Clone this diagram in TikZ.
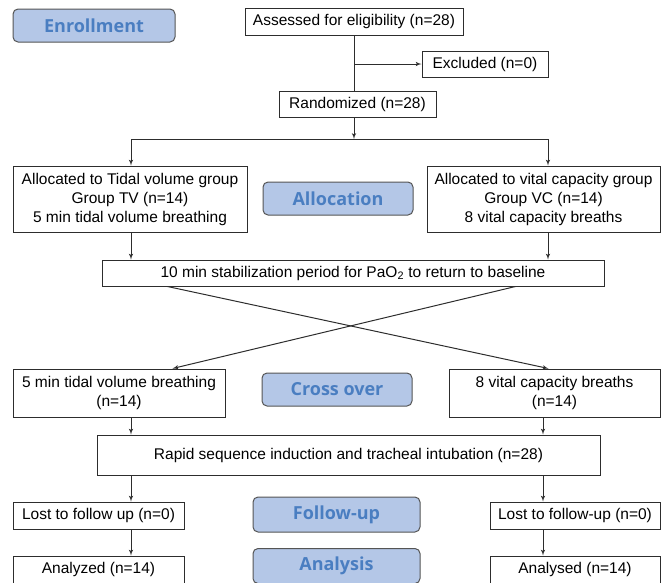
\documentclass[tikz,border=0pt]{standalone}
\usepackage{fontspec}
\setmainfont{Liberation Sans}
\newfontfamily\stagefont{Open Sans}
\usetikzlibrary{arrows}
\definecolor{stagefill}{RGB}{180,199,231}
\definecolor{stagetext}{RGB}{74,126,193}
\definecolor{stageline}{RGB}{85,85,85}
\definecolor{boxline}{RGB}{45,45,45}

\begin{document}
\begin{tikzpicture}[x=1pt,y=-1pt, line width=1pt, >=latex',
  box/.style={draw=boxline, fill=white, inner sep=0pt, align=center, font=\fontsize{15.5}{19}\selectfont},
  stage/.style={draw=stageline, fill=stagefill, rounded corners=5pt, inner sep=0pt, minimum height=33pt, text=stagetext, font=\stagefont\bfseries\fontsize{18}{20}\selectfont}]
\clip (0,0) rectangle (662,582);
% stage labels
\node[stage, minimum width=162pt] (enroll) at (94,25.5) {Enrollment};
\node[stage, minimum width=150pt] (alloc) at (338,198.5) {Allocation};
\node[stage, minimum width=150pt] (cross) at (337,389.5) {Cross over};
\node[stage, minimum width=167pt, minimum height=35pt] (follow) at (336.5,514.5) {Follow-up};
\node[stage, minimum width=167pt, minimum height=35pt] (analysis) at (336.5,566) {Analysis};
% boxes
\node[box, minimum width=218pt, minimum height=27pt] (assess) at (354,21.5) {Assessed for eligibility (n=28)};
\node[box, minimum width=126pt, minimum height=26pt] (excl) at (485,64) {Excluded (n=0)};
\node[box, minimum width=157pt, minimum height=26pt] (rand) at (357.5,104) {Randomized (n=28)};
\node[box, minimum width=234pt, minimum height=66pt] (tvA) at (130,199) {Allocated to Tidal volume group\\Group TV (n=14)\\5 min tidal volume breathing};
\node[box, minimum width=233pt, minimum height=66pt] (vcA) at (543.5,199) {Allocated to vital capacity group\\Group VC (n=14)\\8 vital capacity breaths};
\node[box, minimum width=502pt, minimum height=26pt] (stab) at (353,273) {10 min stabilization period for PaO\textsubscript{2} to return to baseline};
\node[box, minimum width=212pt, minimum height=48pt] (tvB) at (119,393) {5 min tidal volume breathing\\(n=14)};
\node[box, minimum width=211pt, minimum height=48pt] (vcB) at (554.5,393) {8 vital capacity breaths\\(n=14)};
\node[box, minimum width=503pt, minimum height=40pt] (rsi) at (348.5,455) {Rapid sequence induction and tracheal intubation (n=28)};
\node[box, minimum width=171pt, minimum height=27pt] (lostL) at (98.5,515.5) {Lost to follow up (n=0)};
\node[box, minimum width=170pt, minimum height=27pt] (lostR) at (575,515.5) {Lost to follow-up (n=0)};
\node[box, minimum width=171pt, minimum height=27pt] (anaL) at (98.5,569.5) {Analyzed (n=14)};
\node[box, minimum width=170pt, minimum height=27pt] (anaR) at (575,569.5) {Analysed (n=14)};
% columns
\coordinate (L) at (131,0);
\coordinate (R) at (548,0);
\coordinate (Rb) at (543,0);
\coordinate (fork) at (354,139);
% connectors
\draw[boxline] (assess.south) -- (assess.south |- rand.north);
\draw[boxline,->] (assess.south |- excl.west) -- (excl.west);
\draw[boxline,->] (rand.south -| fork) -- (fork);
\draw[boxline] (fork -| L) -- (fork -| R);
\draw[boxline,->] (fork -| L) -- (tvA.north -| L);
\draw[boxline,->] (fork -| R) -- (vcA.north -| R);
\draw[boxline,->] (tvA.south -| L) -- (stab.north -| L);
\draw[boxline,->] (vcA.south -| R) -- (stab.north -| R);
\draw[boxline,->] ([xshift=66pt]stab.south west) -- ([xshift=100pt]vcB.north west);
\draw[boxline,->] ([xshift=414pt]stab.south west) -- ([xshift=160pt]tvB.north west);
\foreach \a/\b in {tvB/rsi, rsi/lostL, lostL/anaL} {
 \draw[boxline,->] (\a.south -| L) -- (\b.north -| L);
}
\foreach \a/\b in {vcB/rsi, rsi/lostR, lostR/anaR} {
 \draw[boxline,->] (\a.south -| Rb) -- (\b.north -| Rb);
}
\end{tikzpicture}
\end{document}
